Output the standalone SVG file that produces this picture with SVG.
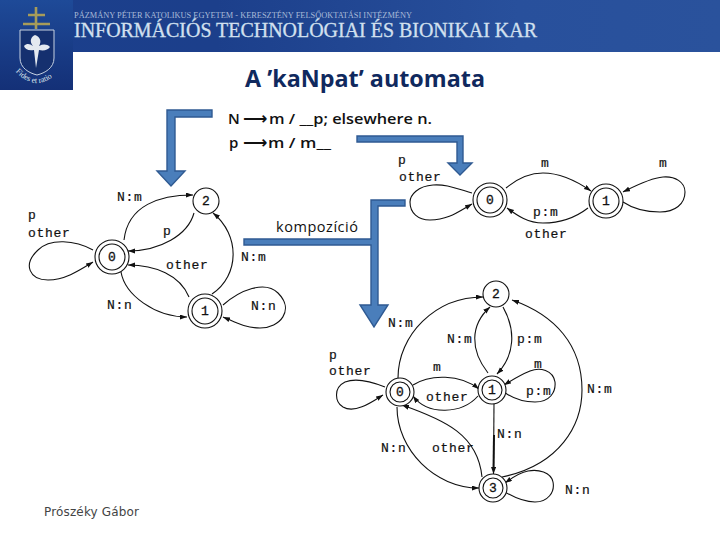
<svg xmlns="http://www.w3.org/2000/svg" width="720" height="540" viewBox="0 0 720 540">
<style>
.e{fill:none;stroke:#111;stroke-width:1.1;marker-end:url(#h)}
.n{fill:#fff;stroke:#111;stroke-width:1.1}
.l{font-family:"Liberation Mono",monospace;font-size:13px;letter-spacing:.7px;fill:#111;stroke:#111;stroke-width:.2}
.d{font-family:"Liberation Mono",monospace;font-size:13px;fill:#111;stroke:#111;stroke-width:.3;text-anchor:middle}
.b{fill:#4a7ebb;stroke:#2f5a92;stroke-width:1.4}
.t{font-family:"Open Sans",sans-serif;font-weight:600;font-size:15px;fill:#111}
</style>
<defs>
<marker id="h" markerUnits="userSpaceOnUse" markerWidth="9" markerHeight="7" refX="7" refY="2.500" orient="auto"><path d="M0 0L7 2.500L0 5Z" fill="#111"/></marker>
<linearGradient id="bg" x1="0" x2="1" y1="0" y2="0"><stop offset="0" stop-color="#1b3f8c"/><stop offset=".3" stop-color="#1c3f8b"/><stop offset=".72" stop-color="#28509c"/><stop offset="1" stop-color="#2a529c"/></linearGradient>
<linearGradient id="lg" x1="0" x2="0" y1="0" y2="1"><stop offset="0" stop-color="#1e4a98"/><stop offset="1" stop-color="#143077"/></linearGradient>
<path id="arc" d="M14 70Q37 96 60 70"/>
</defs>

<g id="header">
<rect x="0" y="0" width="720" height="52" fill="url(#bg)"/>
<rect x="0" y="0" width="73" height="90" fill="url(#lg)"/>
<path d="M36 7V29M28 15H45M23 24H50" stroke="#a79c5a" stroke-width="2.6" fill="none"/>
<path d="M20 30H54V58C54 68 45 73 37 75C29 73 20 68 20 58Z" fill="#15306f" stroke="#c7d2e2" stroke-width="1"/>
<path d="M36 68L34 50C28 51 25 49 24 46C27 43 30 44 33 46C29 41 31 37 35 35C40 37 42 41 39 46C43 44 47 44 50 47C48 50 44 51 39 50Z" fill="#e4e9f0"/>
<text font-family="Liberation Serif,serif" font-size="8" fill="#dfe6ef"><textPath href="#arc" startOffset="2">Fides et ratio</textPath></text>
<text x="74" y="18" font-family="Liberation Serif,serif" font-size="8" fill="#a9bbd8" textLength="338" lengthAdjust="spacingAndGlyphs">PÁZMÁNY PÉTER KATOLIKUS EGYETEM - KERESZTÉNY FELSŐOKTATÁSI INTÉZMÉNY</text>
<text x="74" y="37" font-family="Liberation Serif,serif" font-size="20" fill="#d2e0ef" stroke="#d2e0ef" stroke-width=".3" textLength="463" lengthAdjust="spacingAndGlyphs">INFORMÁCIÓS TECHNOLÓGIAI ÉS BIONIKAI KAR</text>
</g>

<text id="title" x="245" y="87" font-family="Open Sans,sans-serif" font-weight="700" font-size="23" fill="#10295e" textLength="240" lengthAdjust="spacingAndGlyphs">A ’kaNpat’ automata</text>

<g id="rules">
<text class="t" y="124"><tspan x="228">N</tspan><tspan x="243" font-family="DejaVu Sans,sans-serif" font-size="17">⟶</tspan><tspan x="269" textLength="163" lengthAdjust="spacingAndGlyphs">m / __p; elsewhere n.</tspan></text>
<text class="t" y="148"><tspan x="229">p</tspan><tspan x="243" font-family="DejaVu Sans,sans-serif" font-size="17">⟶</tspan><tspan x="268" textLength="63" lengthAdjust="spacingAndGlyphs">m / m__</tspan></text>
</g>
<text id="komp" x="276" y="232" font-family="Open Sans,sans-serif" font-size="14.500" fill="#111" textLength="82">kompozíció</text>
<text id="author" x="44" y="516" font-family="DejaVu Sans,sans-serif" font-size="12" fill="#444" textLength="95">Prószéky Gábor</text>

<g id="block-arrows">
<path class="b" d="M212 110H167V171H157L171 186L185 171H175V117H212Z"/>
<path class="b" d="M357 136H463V163H472L460 175L448 163H457V142H357Z"/>
<path class="b" d="M405 200H371V239H244V245H371V305H360L374 327L388 305H378V206H405Z"/>
</g>

<g id="connectors">
<path class="e" d="M124 240C128 205 160 195 193 195"/>
<path class="e" d="M194 213C188 235 160 251 128 251"/>
<path class="e" d="M189 297C180 275 155 265 128 265"/>
<path class="e" d="M121 272C125 295 155 317 187 317"/>
<path class="e" d="M212 294C240 275 240 235 213 213"/>
<path class="e" d="M93 250C75 240 50 238 38 250C22 265 30 280 48 280C65 280 80 270 93 262"/>
<path class="e" d="M223 305C240 290 265 280 278 293C295 310 280 328 260 328C245 328 235 322 223 317"/>

<path class="e" d="M506 188C518 178 530 173 543 173C560 173 578 182 591 191"/>
<path class="e" d="M588 208C575 218 560 223 543 223C528 223 518 216 507 208"/>
<path class="e" d="M472 193C455 188 445 184 433 185C418 186 410 195 410 202C410 213 418 220 430 220C448 220 458 212 472 204"/>
<path class="e" d="M623 202C635 210 648 212 660 212C675 212 685 204 685 192C685 182 675 176 663 177C650 178 635 186 623 192"/>

<path class="e" d="M398 378C398 335 435 297 483 297"/>
<path class="e" d="M488 373C470 350 470 325 490 307"/>
<path class="e" d="M503 307C516 330 515 355 497 374"/>
<path class="e" d="M413 385C430 374 460 374 479 389"/>
<path class="e" d="M478 396C462 414 428 416 413 396"/>
<path class="e" d="M504 392C515 400 525 402 535 402C550 402 556 392 555 382C553 370 540 367 530 371C520 375 512 380 504 385"/>
<path class="e" d="M494 402L493.500 474"/>
<path fill="none" stroke="#111" stroke-width="2" d="M494 435L493.500 470"/>
<path class="e" d="M482 477C478 435 445 420 402 405"/>
<path class="e" d="M397 407C397 450 435 488 479 488"/>
<path class="e" d="M502 477C560 465 582 425 582 390C582 345 555 315 512 300"/>
<path class="e" d="M505 492C515 498 525 502 535 502C548 502 555 492 553 482C551 472 538 469 528 471C518 473 512 478 505 483"/>
<path class="e" d="M385 387C370 381 355 378 345 382C333 388 335 402 343 407C355 414 372 402 383 395"/>
</g>

<g id="a-n2"><circle class="n" cx="206" cy="201" r="13"/><text class="d" x="206" y="205">2</text></g>
<g id="a-n0"><circle class="n" cx="112" cy="257" r="17"/><circle class="n" cx="112" cy="257" r="13"/><text class="d" x="112" y="261">0</text></g>
<g id="a-n1"><circle class="n" cx="205" cy="311" r="17"/><circle class="n" cx="205" cy="311" r="13"/><text class="d" x="205" y="315">1</text></g>

<g id="b-n0"><circle class="n" cx="490" cy="200" r="17"/><circle class="n" cx="490" cy="200" r="13"/><text class="d" x="490" y="204">0</text></g>
<g id="b-n1"><circle class="n" cx="606" cy="201" r="17"/><circle class="n" cx="606" cy="201" r="13"/><text class="d" x="606" y="205">1</text></g>

<g id="c-n2"><circle class="n" cx="496" cy="294" r="13"/><text class="d" x="496" y="298">2</text></g>
<g id="c-n0"><circle class="n" cx="400" cy="392" r="14"/><circle class="n" cx="400" cy="392" r="10"/><text class="d" x="400" y="396">0</text></g>
<g id="c-n1"><circle class="n" cx="492" cy="390" r="14"/><circle class="n" cx="492" cy="390" r="10"/><text class="d" x="492" y="394">1</text></g>
<g id="c-n3"><circle class="n" cx="493" cy="488" r="14"/><circle class="n" cx="493" cy="488" r="10"/><text class="d" x="493" y="492">3</text></g>

<g id="labels">
<text class="l" x="117" y="201">N:m</text>
<text class="l" x="28" y="219">p</text>
<text class="l" x="28" y="237">other</text>
<text class="l" x="163" y="235">p</text>
<text class="l" x="166" y="269">other</text>
<text class="l" x="241" y="261">N:m</text>
<text class="l" x="107" y="309">N:n</text>
<text class="l" x="251" y="310">N:n</text>

<text class="l" x="398" y="164">p</text>
<text class="l" x="399" y="181">other</text>
<text class="l" x="541" y="167">m</text>
<text class="l" x="659" y="167">m</text>
<text class="l" x="533" y="216">p:m</text>
<text class="l" x="525" y="238">other</text>

<text class="l" x="388" y="327">N:m</text>
<text class="l" x="447" y="343">N:m</text>
<text class="l" x="517" y="343">p:m</text>
<text class="l" x="534" y="368">m</text>
<text class="l" x="433" y="371">m</text>
<text class="l" x="329" y="359">p</text>
<text class="l" x="329" y="375">other</text>
<text class="l" x="426" y="401">other</text>
<text class="l" x="526" y="395">p:m</text>
<text class="l" x="587" y="393">N:m</text>
<text class="l" x="497" y="438">N:n</text>
<text class="l" x="381" y="452">N:n</text>
<text class="l" x="432" y="452">other</text>
<text class="l" x="565" y="494">N:n</text>
</g>
</svg>
